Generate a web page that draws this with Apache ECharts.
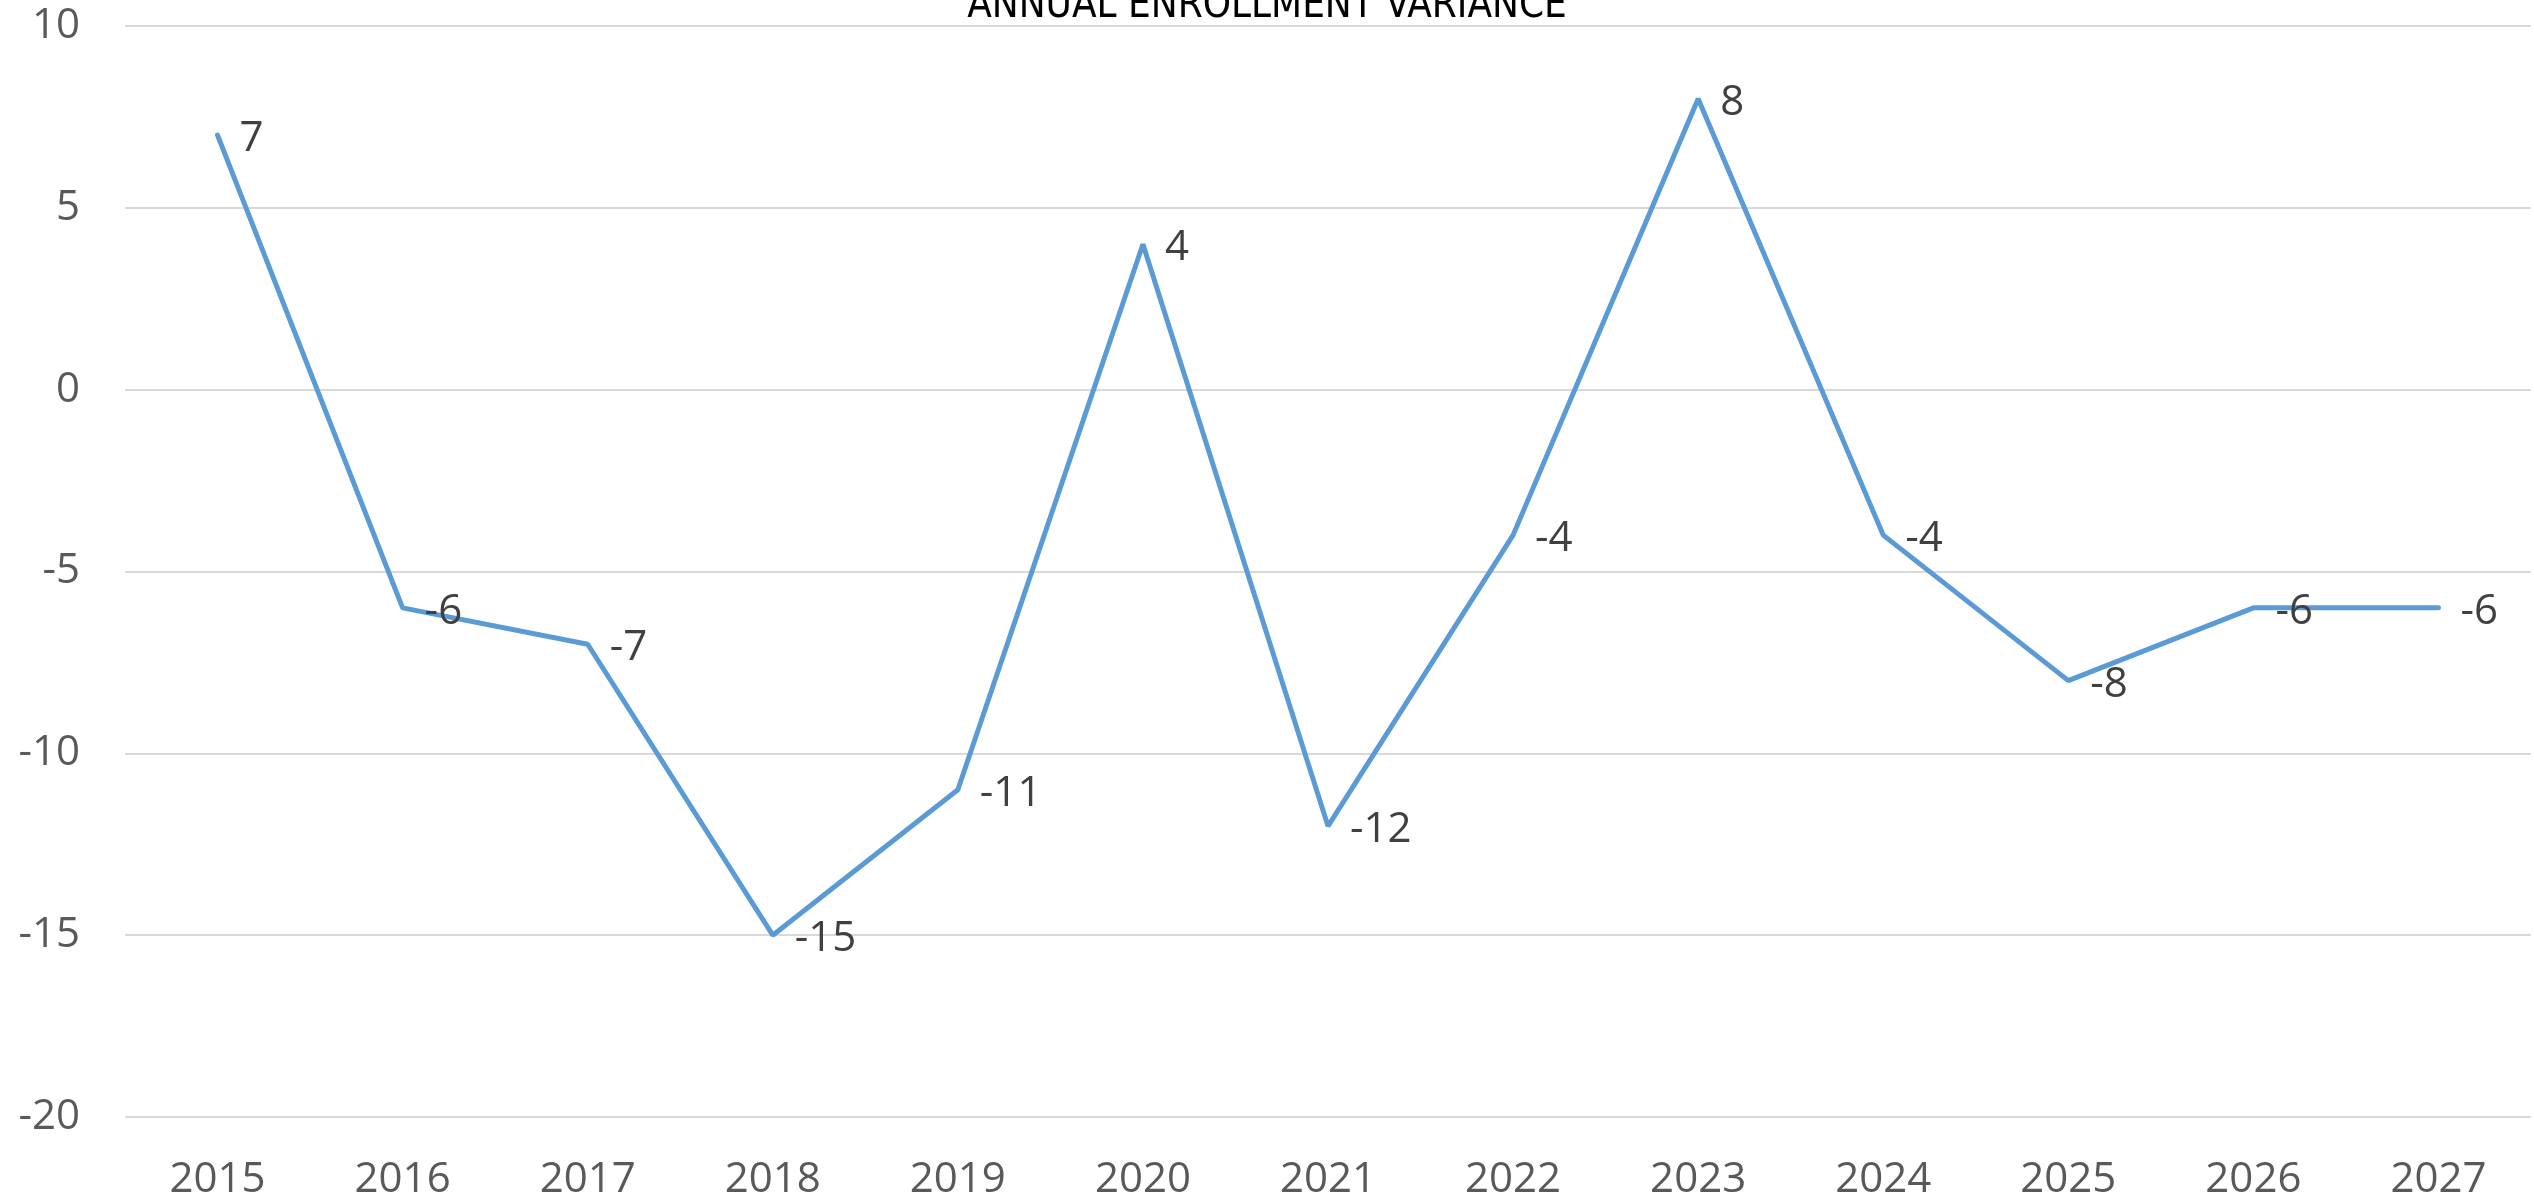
<!DOCTYPE html>
<html>
<head>
<meta charset="utf-8">
<script src="https://cdn.jsdelivr.net/npm/echarts@6/dist/echarts.min.js"></script>
<style>
  html, body { margin: 0; padding: 0; background: #fff; }
  #chart { width: 2534px; height: 1202px; }
</style>
</head>
<body>
<div id="chart"></div>
<script>
// chart data
var years = ['2015', '2016', '2017', '2018', '2019', '2020', '2021', '2022', '2023', '2024', '2025', '2026', '2027'];
var variance = [7, -6, -7, -15, -11, 4, -12, -4, 8, -4, -8, -6, -6];
var chartTitle = 'ANNUAL ENROLLMENT VARIANCE';

var myChart = echarts.init(document.getElementById('chart'));
var option = {
  backgroundColor: '#ffffff',
  animation: false,
  title: {
    text: chartTitle,
    left: 'center',
    top: -18,
    textStyle: {
      fontFamily: '"Liberation Sans Narrow", "DejaVu Sans Condensed", sans-serif',
      fontSize: 40,
      fontWeight: 'normal',
      color: '#000000'
    }
  },
  grid: {
    left: 125,
    right: 3,
    top: 26,
    bottom: 85
  },
  xAxis: {
    type: 'category',
    data: years,
    boundaryGap: true,
    axisLine: { show: false },
    axisTick: { show: false },
    axisLabel: {
      color: '#595959',
      fontFamily: '"Open Sans", sans-serif',
      fontSize: 42,
      margin: 42
    }
  },
  yAxis: {
    type: 'value',
    min: -20,
    max: 10,
    interval: 5,
    axisLine: { show: false },
    axisTick: { show: false },
    splitLine: { lineStyle: { color: '#d9d9d9', width: 2 } },
    axisLabel: {
      color: '#595959',
      fontFamily: '"Open Sans", sans-serif',
      fontSize: 42,
      margin: 45
    }
  },
  series: [
    {
      name: 'Variance',
      type: 'line',
      data: variance,
      symbol: 'circle',
      symbolSize: 0,
      lineStyle: { color: '#5b9bd5', width: 5, cap: 'round' },
      itemStyle: { color: '#5b9bd5' },
      label: {
        show: true,
        position: 'right',
        distance: 22,
        offset: [0, 4],
        color: '#404040',
        fontFamily: '"Open Sans", sans-serif',
        fontSize: 42
      }
    }
  ]
};
myChart.setOption(option);
</script>
</body>
</html>
